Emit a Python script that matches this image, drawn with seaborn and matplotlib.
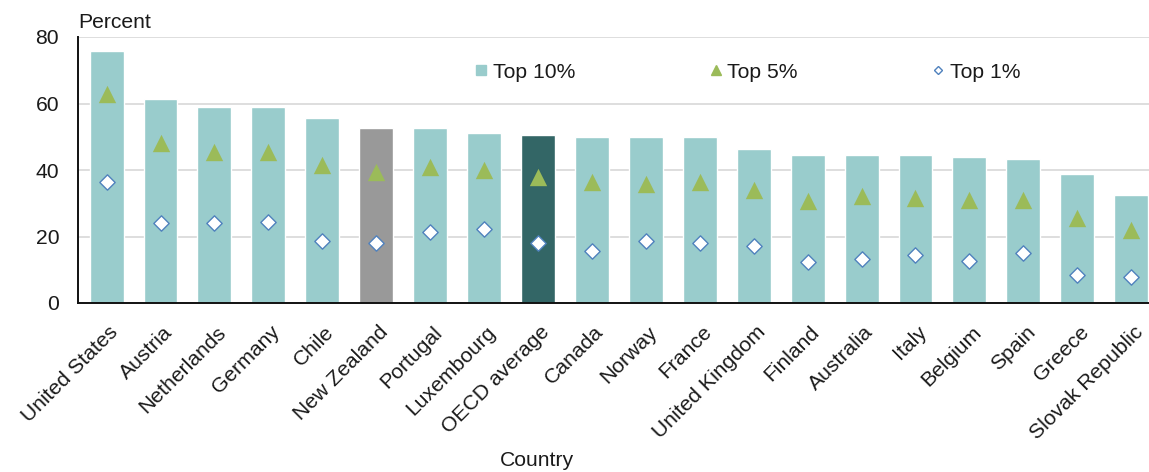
import matplotlib
matplotlib.use("Agg")
import matplotlib.pyplot as plt
import matplotlib.transforms as mtransforms
from matplotlib.lines import Line2D
import pandas as pd
import seaborn as sns

countries = [
    "United States", "Austria", "Netherlands", "Germany", "Chile", "New Zealand",
    "Portugal", "Luxembourg", "OECD average", "Canada", "Norway", "France",
    "United Kingdom", "Finland", "Australia", "Italy", "Belgium", "Spain",
    "Greece", "Slovak Republic",
]
top10 = [75.9, 61.4, 59.0, 59.0, 55.5, 52.5, 52.5, 51.2, 50.6, 50.0, 50.0, 50.0,
         46.4, 44.6, 44.6, 44.6, 44.0, 43.3, 38.7, 32.5]
top5 = [62.8, 48.2, 45.5, 45.5, 41.4, 39.5, 40.8, 40.1, 37.9, 36.4, 35.9, 36.4,
        34.0, 30.6, 32.3, 31.7, 31.0, 31.0, 25.6, 22.0]
top1 = [36.5, 24.0, 24.0, 24.5, 18.6, 18.0, 21.5, 22.3, 18.0, 15.5, 18.6, 18.0,
        17.2, 12.4, 13.1, 14.4, 12.6, 14.9, 8.4, 7.7]
series_labels = ["Top 10%", "Top 5%", "Top 1%"]
y_ticks = [0, 20, 40, 60, 80]

BAR = "#99CCCC"
BAR_NZ = "#999999"
BAR_OECD = "#336666"
TRI = "#9BBB59"
DIA_EDGE = "#4F81BD"

df = pd.DataFrame({"Country": countries, "top10": top10, "top5": top5, "top1": top1})
bar_colors = {c: BAR for c in countries}
bar_colors["New Zealand"] = BAR_NZ
bar_colors["OECD average"] = BAR_OECD

sns.set_theme(style="white")
plt.rcParams["font.family"] = ["Liberation Sans", "DejaVu Sans"]
FS = 15.2

fig = plt.figure(figsize=(11.49, 4.72), dpi=100)
ax = fig.add_axes([78 / 1149, 1 - 303 / 472, 1 - 78 / 1149, (303 - 37) / 472])

sns.barplot(data=df, x="Country", y="top10", hue="Country", palette=bar_colors,
            width=0.63, saturation=1, legend=False, ax=ax, zorder=2)
sns.stripplot(data=df, x="Country", y="top5", jitter=False, marker="^", size=12.5,
              color=TRI, linewidth=0, ax=ax, zorder=3)
sns.stripplot(data=df, x="Country", y="top1", jitter=False, marker="D", size=7.8,
              color="white", edgecolor=DIA_EDGE, linewidth=1.0, ax=ax, zorder=4)

ax.set_xlim(-0.53, 19.33)
ax.set_ylim(0, 80)
ax.set_yticks(y_ticks)
ax.set_yticklabels([str(v) for v in y_ticks], fontsize=FS, color="#1a1a1a")
ax.tick_params(axis="y", length=0, pad=13.5)
ax.tick_params(axis="x", length=0, pad=14)
ax.yaxis.grid(True, color="#d4d4d4", linewidth=1.1, zorder=0)
ax.xaxis.grid(False)
ax.set_axisbelow(True)
for s in ("top", "right"):
    ax.spines[s].set_visible(False)
for s in ("left", "bottom"):
    ax.spines[s].set_color("#111111")
    ax.spines[s].set_linewidth(1.4)

ax.set_xlabel("")
ax.set_ylabel("")
shift = mtransforms.ScaledTranslation(2 / 100, 0, fig.dpi_scale_trans)
for lab in ax.get_xticklabels():
    lab.set_rotation(45)
    lab.set_ha("right")
    lab.set_va("top")
    lab.set_rotation_mode("anchor")
    lab.set_fontsize(FS)
    lab.set_color("#1a1a1a")
    lab.set_transform(lab.get_transform() + shift)

ax.text(0, 1 + 9 / 266, "Percent", transform=ax.transAxes, ha="left", va="baseline",
        fontsize=FS, color="#1a1a1a")
fig.text(537 / 1149, 1 - 466 / 472, "Country", ha="center", va="baseline",
         fontsize=FS, color="#1a1a1a")

handles = [
    Line2D([], [], marker="s", linestyle="none", markersize=7.5, markerfacecolor=BAR,
           markeredgecolor=BAR),
    Line2D([], [], marker="^", linestyle="none", markersize=7, markerfacecolor=TRI,
           markeredgecolor=TRI),
    Line2D([], [], marker="D", linestyle="none", markersize=4.5, markerfacecolor="white",
           markeredgecolor=DIA_EDGE, markeredgewidth=1.0),
]
fig.legend(handles, series_labels, loc="center left",
           bbox_to_anchor=(476 / 1149, 1 - 72 / 472), ncol=3, frameon=False,
           fontsize=FS, handlelength=0.5, handletextpad=0.3, columnspacing=6.4,
           borderpad=0, borderaxespad=0, labelcolor="#1a1a1a")

fig.savefig("out.png", dpi=100)
